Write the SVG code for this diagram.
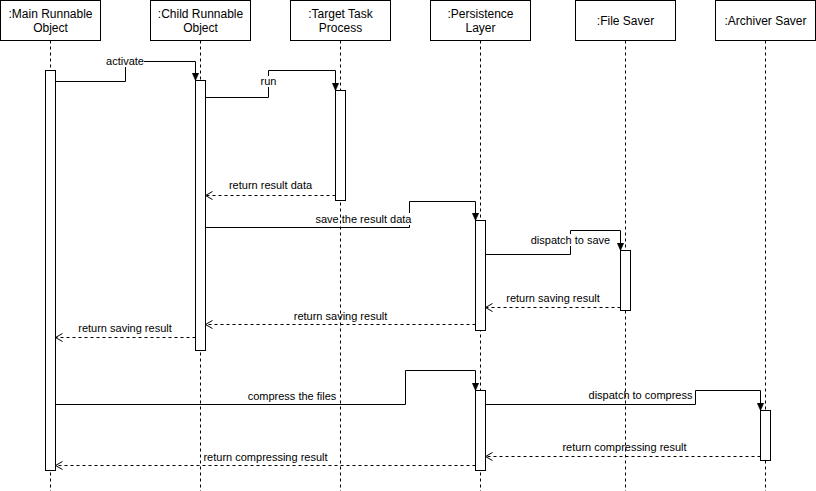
<svg xmlns="http://www.w3.org/2000/svg" width="816" height="491" viewBox="0 0 816 491">
  <style>
    .box { fill: #ffffff; stroke: #000000; stroke-width: 1; }
    .act { fill: #ffffff; stroke: #000000; stroke-width: 1; }
    .life { stroke: #000000; stroke-width: 1; stroke-dasharray: 3 3; fill: none; }
    .head { font-family: "Liberation Sans", Arial, Helvetica, sans-serif; font-size: 12px; fill: #000000; text-anchor: middle; }
    .msg { stroke: #000000; stroke-width: 1; fill: none; marker-end: url(#block); }
    .ret { stroke: #000000; stroke-width: 1; fill: none; stroke-dasharray: 3 3; marker-end: url(#open); }
    .lbl { font-family: "Liberation Sans", Arial, Helvetica, sans-serif; font-size: 11px; fill: #000000; text-anchor: middle; }
    .lblbg { fill: #ffffff; stroke: none; }
  </style>
  <defs>
    <marker id="block" markerUnits="userSpaceOnUse" viewBox="0 0 8 8" refX="8" refY="4" markerWidth="8" markerHeight="8" orient="auto">
      <path d="M0,0.5 L8,4 L0,7.5 Z" fill="#000000" stroke="#000000" stroke-width="0.5"/>
    </marker>
    <marker id="open" markerUnits="userSpaceOnUse" viewBox="0 0 10 10" refX="8" refY="5" markerWidth="10" markerHeight="10" orient="auto">
      <path d="M1,1 L8,5 L1,9" fill="none" stroke="#000000" stroke-width="1"/>
    </marker>
  </defs>

  <rect x="0" y="0" width="816" height="491" fill="#ffffff"/>

  <!-- messages -->
  <g id="connectors">
    <path class="msg" d="M55.5,81.5 H125.5 V61.5 H195.5 V80.5"/>
    <rect class="lblbg" x="106" y="55" width="38" height="12"/>
    <text class="lbl" x="125" y="65">activate</text>

    <path class="msg" d="M205.5,97.5 H268.5 V70.5 H335.5 V90.5"/>
    <rect class="lblbg" x="259" y="76" width="18" height="11"/>
    <text class="lbl" x="268.5" y="85">run</text>

    <path class="ret" d="M335.5,195.5 H205.5"/>
    <text class="lbl" x="270.5" y="189">return result data</text>

    <path class="msg" d="M205.5,227.5 H409.5 V201.5 H475.5 V220.5"/>
    <rect class="lblbg" x="315" y="213" width="97" height="12"/>
    <text class="lbl" x="363.5" y="223">save the result data</text>

    <path class="msg" d="M485.5,254.5 H570.5 V230.5 H620.5 V250.5"/>
    <rect class="lblbg" x="530" y="234" width="81" height="12"/>
    <text class="lbl" x="570.5" y="244">dispatch to save</text>

    <path class="ret" d="M620.5,307.5 H485.5"/>
    <text class="lbl" x="553" y="302">return saving result</text>

    <path class="ret" d="M475.5,324.5 H205.5"/>
    <text class="lbl" x="340.5" y="320">return saving result</text>

    <path class="ret" d="M195.5,337.5 H55.5"/>
    <text class="lbl" x="125" y="332">return saving result</text>

    <path class="msg" d="M55.5,404.5 H405.5 V370.5 H475.5 V390.5"/>
    <text class="lbl" x="292" y="400">compress the files</text>

    <path class="msg" d="M485.5,404.5 H695.5 V390.5 H760.5 V410.5"/>
    <text class="lbl" x="640.5" y="399">dispatch to compress</text>

    <path class="ret" d="M760.5,456.5 H485.5"/>
    <text class="lbl" x="624.5" y="451">return compressing result</text>

    <path class="ret" d="M475.5,465.5 H55.5"/>
    <text class="lbl" x="265.5" y="461">return compressing result</text>
  </g>

  <!-- participants: header, lifeline, activations -->
  <g id="main-runnable">
    <line class="life" x1="50.5" y1="40.5" x2="50.5" y2="491"/>
    <rect class="box" x="0.5" y="0.5" width="100" height="40"/>
    <text class="head" x="50.5" y="17.5">:Main Runnable</text>
    <text class="head" x="50.5" y="31.5">Object</text>
    <rect class="act" x="45.5" y="70.5" width="10" height="400"/>
  </g>

  <g id="child-runnable">
    <line class="life" x1="200.5" y1="40.5" x2="200.5" y2="491"/>
    <rect class="box" x="150.5" y="0.5" width="100" height="40"/>
    <text class="head" x="200.5" y="17.5">:Child Runnable</text>
    <text class="head" x="200.5" y="31.5">Object</text>
    <rect class="act" x="195.5" y="80.5" width="10" height="270"/>
  </g>

  <g id="target-task">
    <line class="life" x1="340.5" y1="40.5" x2="340.5" y2="491"/>
    <rect class="box" x="290.5" y="0.5" width="100" height="40"/>
    <text class="head" x="340.5" y="17.5">:Target Task</text>
    <text class="head" x="340.5" y="31.5">Process</text>
    <rect class="act" x="335.5" y="90.5" width="10" height="110"/>
  </g>

  <g id="persistence-layer">
    <line class="life" x1="480.5" y1="40.5" x2="480.5" y2="491"/>
    <rect class="box" x="430.5" y="0.5" width="100" height="40"/>
    <text class="head" x="480.5" y="17.5">:Persistence</text>
    <text class="head" x="480.5" y="31.5">Layer</text>
    <rect class="act" x="475.5" y="220.5" width="10" height="110"/>
    <rect class="act" x="475.5" y="390.5" width="10" height="80"/>
  </g>

  <g id="file-saver">
    <line class="life" x1="625.5" y1="40.5" x2="625.5" y2="491"/>
    <rect class="box" x="575.5" y="0.5" width="100" height="40"/>
    <text class="head" x="625.5" y="24.5">:File Saver</text>
    <rect class="act" x="620.5" y="250.5" width="10" height="60"/>
  </g>

  <g id="archiver-saver">
    <line class="life" x1="765.5" y1="40.5" x2="765.5" y2="491"/>
    <rect class="box" x="715.5" y="0.5" width="100" height="40"/>
    <text class="head" x="765.5" y="24.5">:Archiver Saver</text>
    <rect class="act" x="760.5" y="410.5" width="10" height="50"/>
  </g>
</svg>
